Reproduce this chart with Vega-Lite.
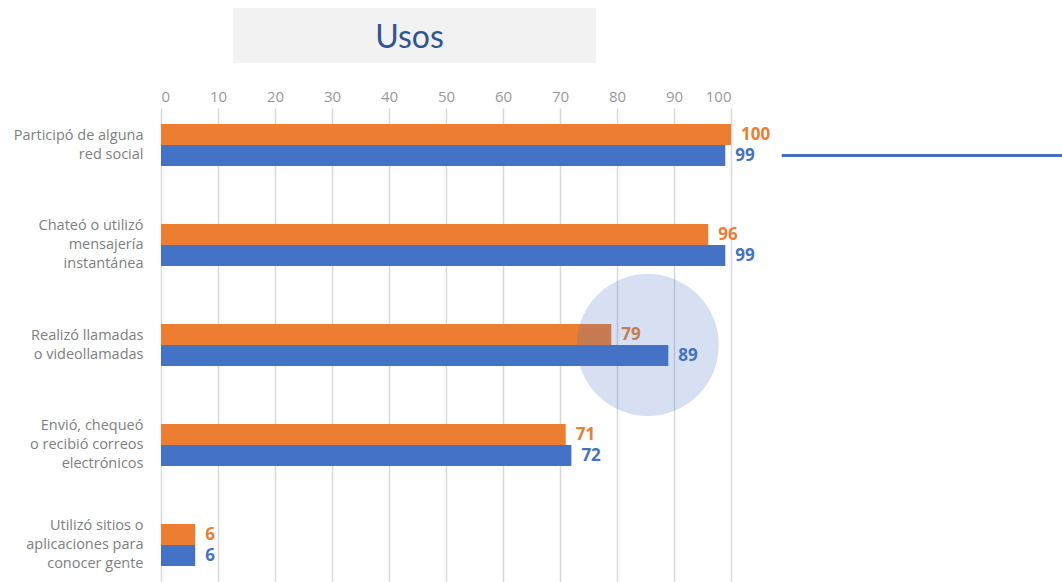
{
  "$schema": "https://vega.github.io/schema/vega-lite/v6.json",
  "padding": {"left": 13, "top": 8, "right": 0, "bottom": 0},
  "background": "white",
  "spacing": 45,
  "bounds": "flush",
  "config": {"view": {"stroke": null}, "font": "Open Sans"},
  "datasets": {
    "titulo": [{"inicio": 12.6, "fin": 76.3, "centro": 43.6, "texto": "Usos"}],
    "usos": [
      {"uso": "Participó de alguna|red social", "serie": "Serie 1", "valor": 100},
      {"uso": "Participó de alguna|red social", "serie": "Serie 2", "valor": 99},
      {"uso": "Chateó o utilizó|mensajería|instantánea", "serie": "Serie 1", "valor": 96},
      {"uso": "Chateó o utilizó|mensajería|instantánea", "serie": "Serie 2", "valor": 99},
      {"uso": "Realizó llamadas|o videollamadas", "serie": "Serie 1", "valor": 79},
      {"uso": "Realizó llamadas|o videollamadas", "serie": "Serie 2", "valor": 89},
      {"uso": "Envió, chequeó|o recibió correos|electrónicos", "serie": "Serie 1", "valor": 71},
      {"uso": "Envió, chequeó|o recibió correos|electrónicos", "serie": "Serie 2", "valor": 72},
      {"uso": "Utilizó sitios o|aplicaciones para|conocer gente", "serie": "Serie 1", "valor": 6},
      {"uso": "Utilizó sitios o|aplicaciones para|conocer gente", "serie": "Serie 2", "valor": 6}
    ],
    "circulo": [{"uso": "Realizó llamadas|o videollamadas", "x": 85.4}],
    "linea": [{"uso": "Participó de alguna|red social", "serie": "Serie 2", "desde": 108.9, "hasta": 158.1}]
  },
  "vconcat": [
    {
      "width": 570,
      "height": 55,
      "data": {"name": "titulo"},
      "layer": [
        {
          "mark": {"type": "rect", "color": "#f2f2f2"},
          "encoding": {
            "x": {"field": "inicio", "type": "quantitative", "scale": {"domain": [0, 100], "nice": false}, "axis": null},
            "x2": {"field": "fin"}
          }
        },
        {
          "mark": {"type": "text", "font": "Lato", "fontSize": 32, "color": "#2F5597", "baseline": "middle", "dy": 2},
          "encoding": {
            "x": {"field": "centro", "type": "quantitative"},
            "text": {"field": "texto"}
          }
        }
      ]
    },
    {
      "width": 570,
      "height": 474,
      "data": {"name": "usos"},
      "encoding": {
        "y": {
          "field": "uso",
          "type": "nominal",
          "scale": {
            "domain": [
              "Participó de alguna|red social",
              "Chateó o utilizó|mensajería|instantánea",
              "Realizó llamadas|o videollamadas",
              "Envió, chequeó|o recibió correos|electrónicos",
              "Utilizó sitios o|aplicaciones para|conocer gente"
            ],
            "paddingInner": 0.58,
            "paddingOuter": 0.16
          },
          "axis": {
            "title": null,
            "domain": false,
            "ticks": false,
            "labelPadding": 18,
            "labelColor": "#808080",
            "labelFontSize": 14.5,
            "labelLineHeight": 19,
            "labelLimit": 300,
            "labelOffset": {"condition": {"test": "length(split(datum.label, '|')) == 2", "value": -9.5}, "value": -19},
            "labelExpr": "split(datum.label, '|')"
          }
        }
      },
      "layer": [
        {
          "mark": {"type": "bar"},
          "encoding": {
            "yOffset": {"field": "serie", "type": "nominal", "scale": {"domain": ["Serie 1", "Serie 2"], "paddingInner": 0, "paddingOuter": 0}},
            "x": {
              "field": "valor",
              "type": "quantitative",
              "scale": {"domain": [0, 100], "nice": false},
              "axis": {
                "orient": "top",
                "title": null,
                "values": [0, 10, 20, 30, 40, 50, 60, 70, 80, 90, 100],
                "grid": true,
                "gridColor": "#d9d9d9",
                "gridWidth": 1.5,
                "domain": false,
                "ticks": false,
                "labelPadding": 4,
                "labelColor": "#999999",
                "labelFontSize": 15
              }
            },
            "color": {"field": "serie", "type": "nominal", "scale": {"domain": ["Serie 1", "Serie 2"], "range": ["#ED7D31", "#4472C4"]}, "legend": null}
          }
        },
        {
          "mark": {"type": "text", "align": "left", "baseline": "middle", "dx": 10, "fontSize": 17, "fontWeight": "bold"},
          "encoding": {
            "yOffset": {"field": "serie", "type": "nominal"},
            "x": {"field": "valor", "type": "quantitative"},
            "text": {"field": "valor", "type": "quantitative"},
            "color": {"field": "serie", "type": "nominal", "legend": null}
          }
        },
        {
          "data": {"name": "circulo"},
          "mark": {"type": "circle", "color": "#4472C4", "opacity": 0.22, "size": 20164},
          "encoding": {
            "x": {"field": "x", "type": "quantitative"}
          }
        },
        {
          "data": {"name": "linea"},
          "mark": {"type": "rule", "color": "#4472C4", "strokeWidth": 3},
          "encoding": {
            "yOffset": {"field": "serie", "type": "nominal"},
            "x": {"field": "desde", "type": "quantitative"},
            "x2": {"field": "hasta"}
          }
        }
      ]
    }
  ]
}
